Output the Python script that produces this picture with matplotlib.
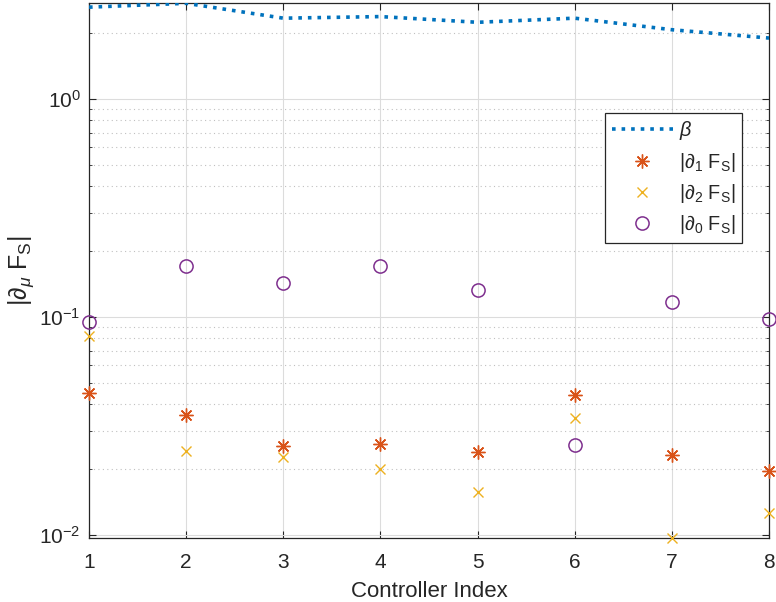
import matplotlib
matplotlib.use("Agg")
import matplotlib.pyplot as plt
from matplotlib.ticker import LogLocator, NullFormatter, FixedLocator

plt.rcParams['font.family'] = ['Liberation Sans', 'DejaVu Sans']
plt.rcParams['mathtext.fontset'] = 'custom'
plt.rcParams['mathtext.rm'] = 'Liberation Sans'
plt.rcParams['mathtext.it'] = 'Liberation Sans:italic'
plt.rcParams['mathtext.bf'] = 'Liberation Sans:bold'

controller = [1, 2, 3, 4, 5, 6, 7, 8]
beta = [2.64, 2.75, 2.35, 2.39, 2.25, 2.35, 2.08, 1.905]
d1 = [0.0447, 0.0356, 0.0257, 0.0262, 0.0240, 0.0437, 0.0233, 0.0196]
d2 = [0.0819, 0.0243, 0.0228, 0.0201, 0.0157, 0.0344, 0.00969, 0.0126]
d0 = [0.0944, 0.172, 0.143, 0.171, 0.1334, 0.0260, 0.1167, 0.098]

txt = '#262626'
fig = plt.figure(figsize=(7.76, 6.02), dpi=100)
ax = fig.add_axes([89/776, 1-538/602, 680/776, (538-3.3)/602])

ax.plot(controller, beta, linestyle=':', color='#0072BD', linewidth=2.6, label=r'$\beta$', zorder=3)
ax.plot(controller, d1, linestyle='none', marker=(8, 2, 0), markersize=10, markeredgewidth=1.0,
        color='#D95319', label=r'$|\partial_1\ \mathrm{F_S}|$', zorder=4, clip_on=False)
ax.plot(controller, d2, linestyle='none', marker='x', markersize=7.5, markeredgewidth=1.0,
        color='#EDB120', label=r'$|\partial_2\ \mathrm{F_S}|$', zorder=4, clip_on=False)
ax.plot(controller, d0, linestyle='none', marker='o', markersize=9.5, markeredgewidth=1.1,
        markerfacecolor='none', color='#7E2F8E', label=r'$|\partial_0\ \mathrm{F_S}|$', zorder=4,
        clip_on=False)

ax.set_yscale('log')
ax.set_xlim(1, 8)
ax.set_ylim(min(d2), max(beta))
ax.xaxis.set_major_locator(FixedLocator(controller))
ax.yaxis.set_major_locator(LogLocator(base=10, numticks=10))
ax.yaxis.set_minor_locator(LogLocator(base=10, subs=range(2, 10), numticks=20))
ax.yaxis.set_minor_formatter(NullFormatter())

ax.grid(True, which='major', color='#dcdcdc', linewidth=0.8, linestyle='-')
ax.grid(True, which='minor', axis='y', color='#c0c0c0', linewidth=0.8, linestyle=(0, (1, 3)))
ax.set_axisbelow(True)

ax.tick_params(which='both', direction='in', top=True, right=True, colors=txt, labelsize=15)
ax.tick_params(which='major', length=5, width=0.8)
ax.tick_params(axis='x', which='major', pad=10.5)
ax.tick_params(axis='y', which='major', pad=6)
ax.tick_params(which='minor', length=2.5, width=0.6)
for s in ax.spines.values():
    s.set_color(txt)
    s.set_linewidth(0.9)

ax.set_xlabel('Controller Index', fontsize=16, color=txt)
ax.set_ylabel(r'$|\partial_{\mu}\ \mathrm{F_S}|$', fontsize=18, color=txt)
ax.xaxis.set_label_coords(0.5, (538 - 581) / 534.7)
ax.yaxis.set_label_coords((36 - 89) / 680, 0.5)

leg = ax.legend(loc='upper right', bbox_to_anchor=((742-89)/680, (538-113)/534.7),
                borderaxespad=0, fontsize=14.3, fancybox=False, framealpha=1,
                edgecolor=txt, handlelength=3.1, handletextpad=0.3, labelspacing=0.42,
                borderpad=0.32)
leg.get_frame().set_linewidth(0.9)
for t in leg.get_texts():
    t.set_color(txt)

fig.savefig('out.png', dpi=100)
